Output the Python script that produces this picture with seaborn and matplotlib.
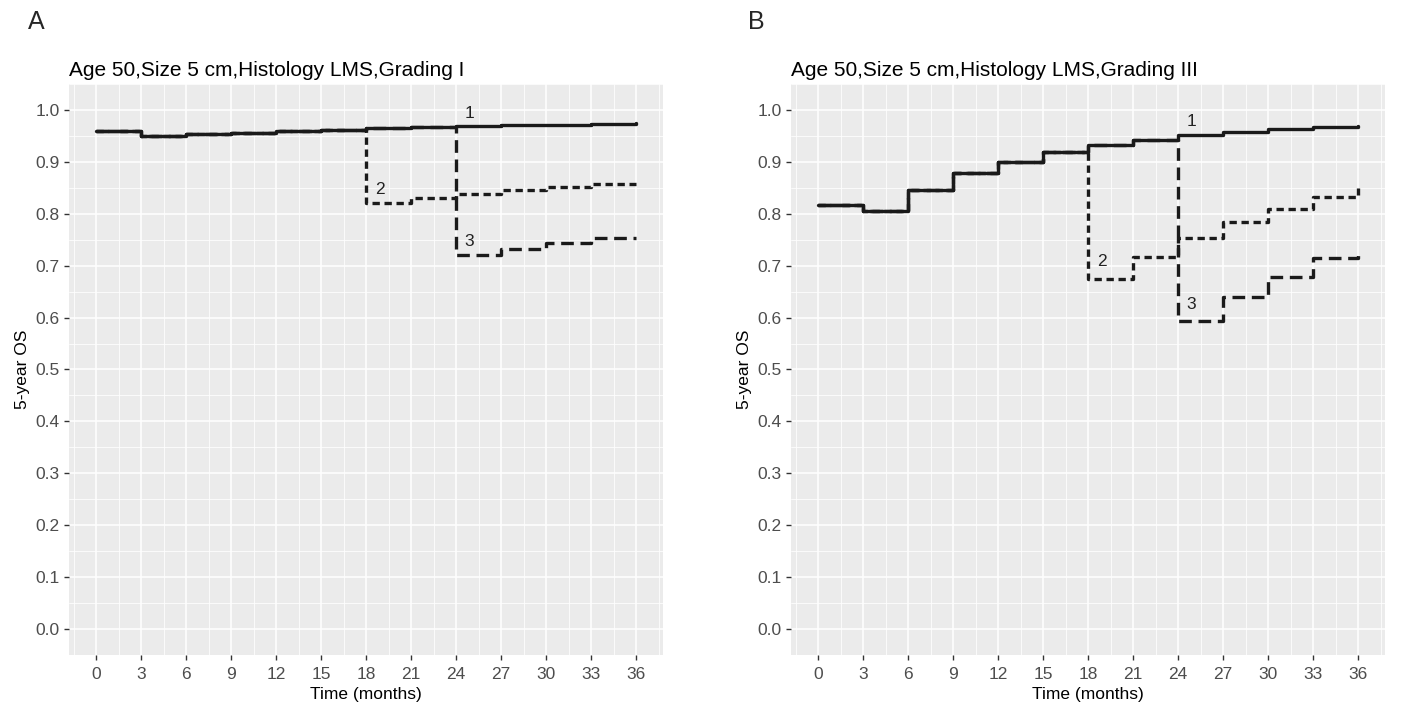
import numpy as np
import pandas as pd
import matplotlib
matplotlib.use("Agg")
import matplotlib.pyplot as plt
from matplotlib.ticker import MultipleLocator, FormatStrFormatter
import seaborn as sns

# data
months = [0, 3, 6, 9, 12, 15, 18, 21, 24, 27, 30, 33, 36]

a_line1 = [0.960, 0.950, 0.953, 0.956, 0.959, 0.962, 0.965, 0.967, 0.969, 0.970, 0.971, 0.973, 0.975]
a_line2 = a_line1[:6] + [0.820, 0.830, 0.838, 0.845, 0.851, 0.857, 0.858]
a_line3 = a_line1[:8] + [0.721, 0.733, 0.744, 0.753, 0.754]

b_line1 = [0.817, 0.806, 0.845, 0.878, 0.900, 0.919, 0.932, 0.942, 0.952, 0.957, 0.963, 0.967, 0.969]
b_line2 = b_line1[:6] + [0.674, 0.717, 0.753, 0.784, 0.809, 0.833, 0.849]
b_line3 = b_line1[:8] + [0.594, 0.640, 0.678, 0.714, 0.726]

label_names = ["1", "2", "3"]
a_label_x = [24.9, 18.9, 24.9]
a_label_y = [0.993, 0.846, 0.746]
b_label_x = [24.9, 18.95, 24.9]
b_label_y = [0.978, 0.708, 0.626]

titles = ["Age 50,Size 5 cm,Histology LMS,Grading I",
          "Age 50,Size 5 cm,Histology LMS,Grading III"]
panel_letters = ["A", "B"]

sns.set_theme(style="darkgrid")
plt.rcParams['font.family'] = ['Liberation Sans', 'DejaVu Sans']
plt.rcParams['axes.facecolor'] = '#EBEBEB'


def make_df(l1, l2, l3):
    rows = []
    for name, vals in zip(label_names, [l1, l2, l3]):
        for t, v in zip(months, vals):
            rows.append({'time': t, 'os': v, 'line': name})
    return pd.DataFrame(rows)


fig = plt.figure(figsize=(14.03, 7.08), dpi=100)
ax_a = fig.add_axes([0.0492, 0.0749, 0.4234, 0.8065])
ax_b = fig.add_axes([0.5638, 0.0749, 0.4234, 0.8065])

panels = [
    (ax_a, make_df(a_line1, a_line2, a_line3), a_label_x, a_label_y),
    (ax_b, make_df(b_line1, b_line2, b_line3), b_label_x, b_label_y),
]

dash_map = {"1": "", "2": (2.2, 1.4), "3": (3.8, 2.0)}

for i, (ax, df, lx, ly) in enumerate(panels):
    # dashed ones first so the solid line sits on top where they overlap
    for name in ["3", "2", "1"]:
        sub = df[df['line'] == name]
        ls = '-' if name == "1" else (0, dash_map[name])
        sns.lineplot(data=sub, x='time', y='os', ax=ax, color='#1a1a1a',
                     linewidth=2.4, drawstyle='steps-post', linestyle=ls,
                     legend=False, estimator=None, sort=False)
    for name, x, y in zip(label_names, lx, ly):
        ax.text(x, y, name, ha='center', va='center', fontsize=12.5, color='#222222')

    ax.set_xlim(-1.8, 37.8)
    ax.set_ylim(-0.05, 1.05)
    ax.xaxis.set_major_locator(MultipleLocator(3))
    ax.xaxis.set_minor_locator(MultipleLocator(1.5))
    ax.yaxis.set_major_locator(MultipleLocator(0.1))
    ax.yaxis.set_minor_locator(MultipleLocator(0.05))
    ax.yaxis.set_major_formatter(FormatStrFormatter('%.1f'))
    ax.grid(which='major', color='white', linewidth=1.1)
    ax.grid(which='minor', color='white', linewidth=0.55)
    ax.set_axisbelow(True)
    for s in ax.spines.values():
        s.set_visible(False)
    ax.tick_params(which='major', length=3.5, width=1.0, color='#333333',
                   labelsize=12.5, labelcolor='#4D4D4D', pad=3,
                   bottom=True, left=True)
    ax.tick_params(axis='x', which='major', pad=5)
    ax.tick_params(which='minor', length=0)
    ax.set_xlabel('Time (months)', fontsize=12.5, color='black', labelpad=4)
    ax.set_ylabel('5-year OS', fontsize=12.5, color='black', labelpad=4)
    ax.set_title(titles[i], loc='left', fontsize=15, color='black', pad=6)

fig.text(28 / 1403, 1 - 22 / 708, panel_letters[0], fontsize=18, va='center', ha='left')
fig.text(748 / 1403, 1 - 22 / 708, panel_letters[1], fontsize=18, va='center', ha='left')

fig.savefig('out.png', dpi=100)
